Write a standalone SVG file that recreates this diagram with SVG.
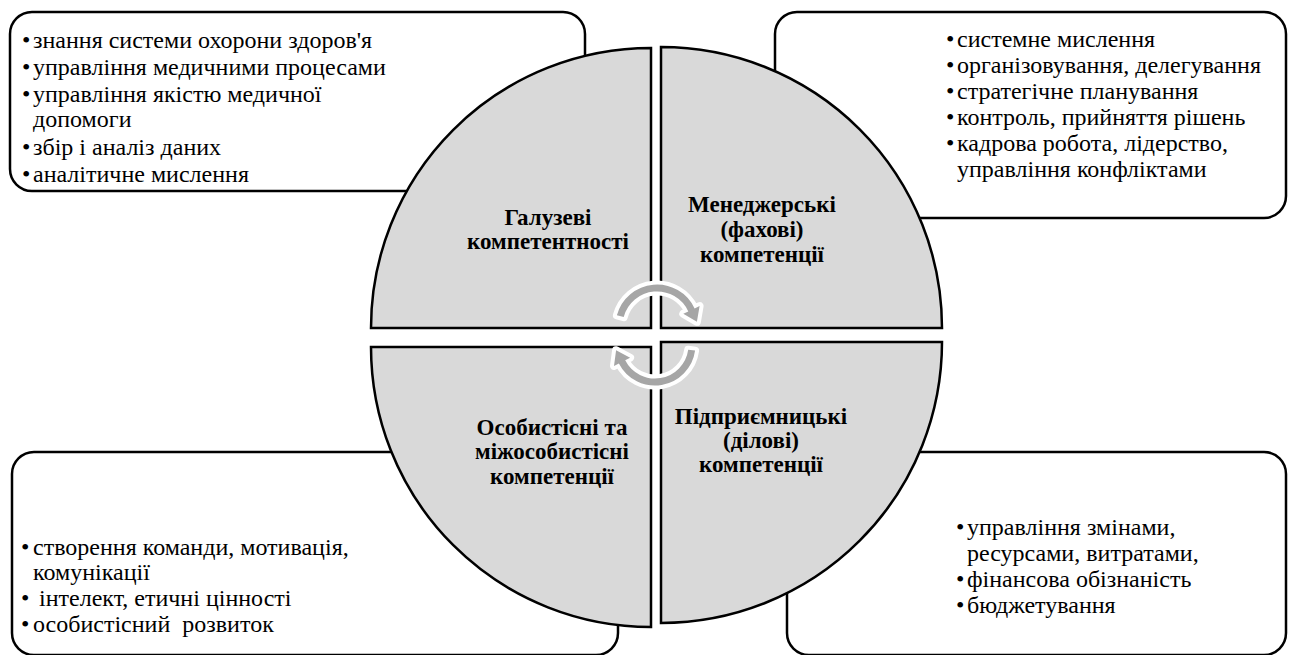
<svg xmlns="http://www.w3.org/2000/svg" width="1290" height="655" viewBox="0 0 1290 655">
<style>
.box{fill:#fff;stroke:#000;stroke-width:2.5}
.q{fill:#d9d9d9;stroke:#000;stroke-width:2.5;stroke-linejoin:miter}
.arr{fill:#a6a6a6;stroke:#fff;stroke-width:8;stroke-linejoin:round;paint-order:stroke}
</style>
<rect width="1290" height="655" fill="#fff"/>
<g id="box-tl">
<rect class="box" x="10" y="12" width="575" height="179" rx="22"/>
<g font-family="Liberation Serif" font-size="24" fill="#000">
<text x="22" y="48">•</text><text x="33" y="48">знання системи охорони здоров'я</text>
<text x="22" y="75">•</text><text x="33" y="75">управління медичними процесами</text>
<text x="22" y="102">•</text><text x="33" y="102">управління якістю медичної</text>
<text x="33" y="127">допомоги</text>
<text x="22" y="155">•</text><text x="33" y="155">збір і аналіз даних</text>
<text x="22" y="182">•</text><text x="33" y="182">аналітичне мислення</text>
</g>
</g>
<g id="box-tr">
<rect class="box" x="775" y="12" width="511" height="206" rx="22"/>
<g font-family="Liberation Serif" font-size="24" fill="#000">
<text x="946" y="47">•</text><text x="957" y="47">системне мислення</text>
<text x="946" y="73">•</text><text x="957" y="73">організовування, делегування</text>
<text x="946" y="99">•</text><text x="957" y="99">стратегічне планування</text>
<text x="946" y="125">•</text><text x="957" y="125">контроль, прийняття рішень</text>
<text x="946" y="151">•</text><text x="957" y="151">кадрова робота, лідерство,</text>
<text x="957" y="177">управління конфліктами</text>
</g>
</g>
<g id="box-bl">
<rect class="box" x="12" y="452" width="606" height="203" rx="22"/>
<g font-family="Liberation Serif" font-size="24" fill="#000">
<text x="21" y="555">•</text><text x="33" y="555">створення команди, мотивація,</text>
<text x="33" y="580">комунікації</text>
<text x="21" y="606">•</text><text x="39" y="606">інтелект, етичні цінності</text>
<text x="21" y="632">•</text><text x="33" y="632" xml:space="preserve">особистісний  розвиток</text>
</g>
</g>
<g id="box-br">
<rect class="box" x="787" y="452" width="499" height="203" rx="22"/>
<g font-family="Liberation Serif" font-size="24" fill="#000">
<text x="956" y="535">•</text><text x="967" y="535">управління змінами,</text>
<text x="967" y="561">ресурсами, витратами,</text>
<text x="956" y="587">•</text><text x="967" y="587">фінансова обізнаність</text>
<text x="956" y="613">•</text><text x="967" y="613">бюджетування</text>
</g>
</g>
<g id="q-tl">
<path class="q" d="M651 328 L371 328 A280 280 0 0 1 651 48 Z"/>
<g font-family="Liberation Serif" font-size="23" font-weight="bold" text-anchor="middle" fill="#000">
<text x="548" y="225">Галузеві</text>
<text x="548" y="249">компетентності</text>
</g>
</g>
<g id="q-tr">
<path class="q" d="M661 328 L661 47 A281 281 0 0 1 942 328 Z"/>
<g font-family="Liberation Serif" font-size="23" font-weight="bold" text-anchor="middle" fill="#000">
<text x="762" y="212">Менеджерські</text>
<text x="762" y="237">(фахові)</text>
<text x="762" y="262">компетенції</text>
</g>
</g>
<g id="q-br">
<path class="q" d="M661 342 L942 342 A281 281 0 0 1 661 623 Z"/>
<g font-family="Liberation Serif" font-size="23" font-weight="bold" text-anchor="middle" fill="#000">
<text x="761" y="424">Підприємницькі</text>
<text x="761" y="448">(ділові)</text>
<text x="761" y="472">компетенції</text>
</g>
</g>
<g id="q-bl">
<path class="q" d="M651 347 L651 627 A280 280 0 0 1 371 347 Z"/>
<g font-family="Liberation Serif" font-size="23" font-weight="bold" text-anchor="middle" fill="#000">
<text x="552" y="435">Особистісні та</text>
<text x="552" y="459">міжособистісні</text>
<text x="552" y="484">компетенції</text>
</g>
</g>
<g id="connectors">
<path class="arr" d="M616.9 315.3 A41.5 41.5 0 0 1 694.6 308.5 L699.6 306.1 L696.9 321.7 L683.3 313.7 L688.3 311.4 A34.5 34.5 0 0 0 623.7 317.1 Z"/>
<path class="arr" d="M695.1 350.6 A40.5 40.5 0 0 1 618.9 363.4 L614.0 365.9 L616.1 350.2 L630.1 357.7 L625.2 360.2 A33.5 33.5 0 0 0 688.2 349.7 Z"/>
</g>
</svg>
